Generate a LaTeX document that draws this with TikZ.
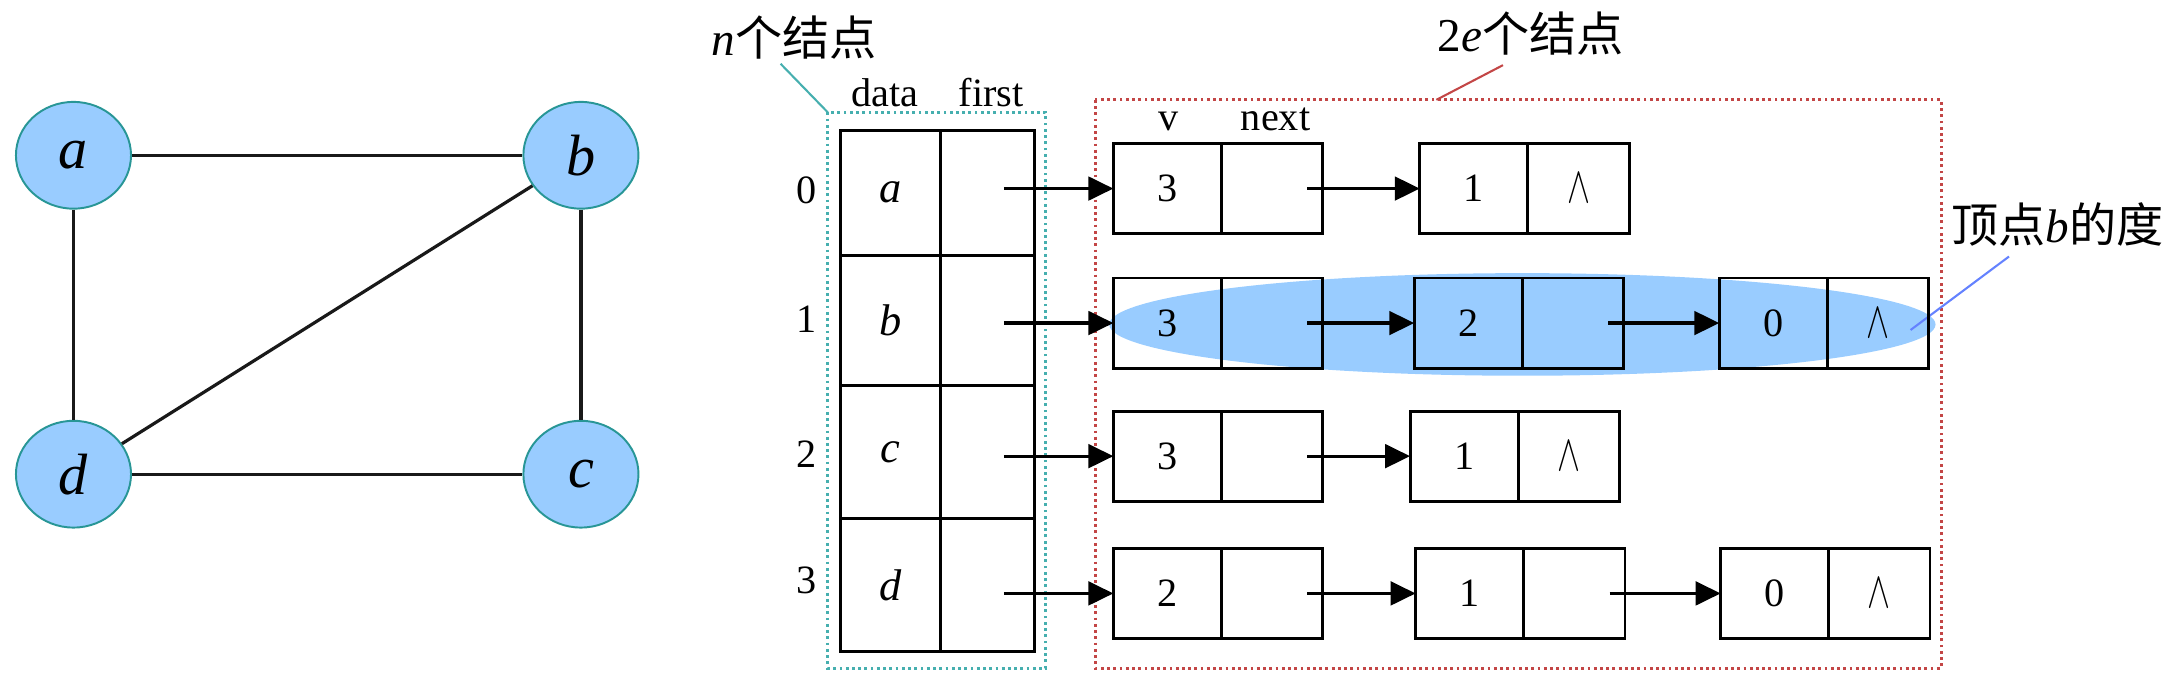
\documentclass[tikz,border=0pt]{standalone}
\usepackage{fontspec}
\usepackage{graphicx}
\setmainfont{Liberation Serif}
\newfontfamily\cjk{Noto Sans CJK SC}
\usetikzlibrary{arrows.meta,shapes.geometric}
\definecolor{nodeblue}{RGB}{153,204,255}
\definecolor{tealc}{RGB}{40,150,150}
\definecolor{tealdot}{RGB}{70,175,175}
\definecolor{reddot}{RGB}{195,70,70}
\definecolor{lineblue}{RGB}{100,130,255}
\newcommand\nilsym{\scalebox{1}[1.5]{$\wedge$}}
\begin{document}
\begin{tikzpicture}[x=1pt,y=-1pt,
  vert/.style={ellipse, draw=tealc, line width=1.4pt, fill=nodeblue, minimum width=83pt, minimum height=77pt, inner sep=0pt, font=\fontsize{42}{42}\selectfont\itshape},
  gedge/.style={line width=2.3pt, black!90},
  cell/.style={draw, line width=2.1pt, minimum height=65pt, inner sep=0pt, outer sep=0pt, font=\fontsize{29}{29}\selectfont},
  vcell/.style={cell, minimum width=78pt, anchor=west},
  ncell/.style={cell, minimum width=73pt, anchor=west, font=\fontsize{36}{36}\selectfont},
  tcell/.style={draw, line width=2.1pt, inner sep=0pt, outer sep=0pt, anchor=north west, font=\fontsize{32}{32}\selectfont\itshape},
  dcell/.style={tcell, minimum width=72pt},
  fcell/.style={tcell, minimum width=68pt},
  arr/.style={line width=2.3pt, -{Triangle[length=18pt,width=17pt]}},
  lbl/.style={font=\fontsize{29}{29}\selectfont, anchor=base, inner sep=0pt},
  idx/.style={font=\fontsize{29}{29}\selectfont, anchor=base, inner sep=0pt},
  cjklbl/.style={font=\fontsize{34}{34}\selectfont, inner sep=0pt},
  frame/.style={line width=2.2pt, dash pattern=on 2pt off 2.5pt}
]
\useasboundingbox (0,0) rectangle (1568,490);

% ---------- graph ----------
\node[vert] (a) at (53,112) {a};
\node[vert] (b) at (419,112) {b};
\node[vert] (d) at (53,342) {d};
\node[vert] (c) at (419,342) {c};
\draw[gedge] (a) -- (b);
\draw[gedge] (a) -- (d);
\draw[gedge] (b) -- (c);
\draw[gedge] (d) -- (c);
\draw[gedge] (d) -- (b);

% ---------- highlight ellipse ----------
\fill[nodeblue] (1098,234) ellipse [x radius=298, y radius=37];

% ---------- frames and their labels ----------
\draw[frame, tealdot] (597,81) rectangle (754,482);
\draw[frame, reddot] (790,72) rectangle (1400,482);
\node[cjklbl] (nlab) at (573,27) {\textit{n}{\cjk 个结点}};
\node[cjklbl] (elab) at (1104,24) {2\textit{e}{\cjk 个结点}};
\node[cjklbl] (dlab) at (1484,162) {{\cjk 顶点}\textit{b}{\cjk 的度}};
\coordinate (nl1) at (563,46);
\coordinate (nl2) at (597,81);
\coordinate (el1) at (1084,47);
\coordinate (el2) at (1036,72);
\coordinate (dl1) at (1449,185);
\coordinate (dl2) at (1378,238);
\draw[tealdot, line width=1.5pt] (nl1) -- (nl2);
\draw[reddot, line width=1.5pt] (el1) -- (el2);
\draw[lineblue, line width=1.5pt] (dl1) -- (dl2);

% ---------- headers ----------
\node[lbl] (hdata) at (638,77) {data};
\node[lbl] (hfirst) at (715,77) {first};
\node[lbl] (hv) at (843,94) {v};
\node[lbl] (hnext) at (920,94) {next};

% ---------- vertex table ----------
\node[dcell, minimum height=90pt] (t0d) at (606,94) {a};
\node[fcell, minimum height=90pt] (t0f) at (t0d.north east) {};
\node[dcell, minimum height=94pt] (t1d) at (t0d.south west) {b};
\node[fcell, minimum height=94pt] (t1f) at (t1d.north east) {};
\node[dcell, minimum height=96pt] (t2d) at (t1d.south west) {c};
\node[fcell, minimum height=96pt] (t2f) at (t2d.north east) {};
\node[dcell, minimum height=96pt] (t3d) at (t2d.south west) {d};
\node[fcell, minimum height=96pt] (t3f) at (t3d.north east) {};

\node[idx] (i0) at (582,147) {0};
\node[idx] (i1) at (582,240) {1};
\node[idx] (i2) at (582,337) {2};
\node[idx] (i3) at (582,428) {3};

% ---------- edge lists ----------
% row 0
\node[vcell] (n01v) at (803,136) {3};
\node[ncell] (n01n) at (n01v.east) {};
\node[vcell] (n02v) at (1024,136) {1};
\node[ncell] (n02n) at (n02v.east) {\nilsym};
% row 1
\node[vcell] (n11v) at (803,233) {3};
\node[ncell] (n11n) at (n11v.east) {};
\node[vcell] (n12v) at (1020,233) {2};
\node[ncell] (n12n) at (n12v.east) {};
\node[vcell] (n13v) at (1240,233) {0};
\node[ncell] (n13n) at (n13v.east) {\nilsym};
% row 2
\node[vcell] (n21v) at (803,329) {3};
\node[ncell] (n21n) at (n21v.east) {};
\node[vcell] (n22v) at (1017,329) {1};
\node[ncell] (n22n) at (n22v.east) {\nilsym};
% row 3
\node[vcell] (n31v) at (803,428) {2};
\node[ncell] (n31n) at (n31v.east) {};
\node[vcell] (n32v) at (1021,428) {1};
\node[ncell] (n32n) at (n32v.east) {};
\node[vcell] (n33v) at (1241,428) {0};
\node[ncell] (n33n) at (n33v.east) {\nilsym};

% ---------- arrows ----------
\coordinate (s0) at (724,136);
\coordinate (s1) at (724,233);
\coordinate (s2) at (724,329);
\coordinate (s3) at (724,428);
\draw[arr] (s0) -- (n01v.west);
\draw[arr] (s1) -- (n11v.west);
\draw[arr] (s2) -- (n21v.west);
\draw[arr] (s3) -- (n31v.west);
\draw[arr] ([xshift=-11pt]n01n.east) -- (n02v.west);
\draw[arr] ([xshift=-11pt]n11n.east) -- (n12v.west);
\draw[arr] ([xshift=-11pt]n12n.east) -- (n13v.west);
\draw[arr] ([xshift=-11pt]n21n.east) -- (n22v.west);
\draw[arr] ([xshift=-11pt]n31n.east) -- (n32v.west);
\draw[arr] ([xshift=-11pt]n32n.east) -- (n33v.west);
\end{tikzpicture}
\end{document}
